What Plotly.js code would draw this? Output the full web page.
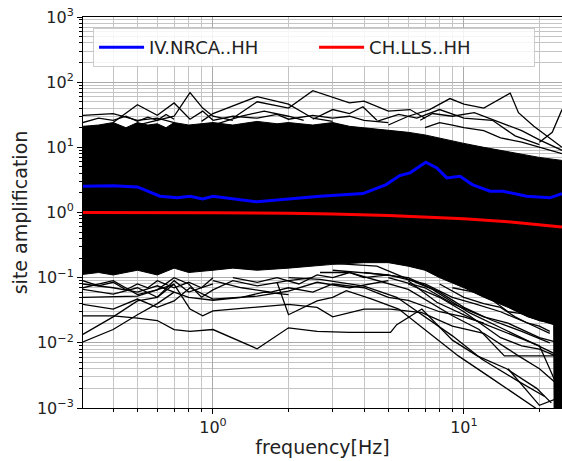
<!DOCTYPE html>
<html><head><meta charset="utf-8">
<script src="https://cdn.plot.ly/plotly-3.0.1.min.js"></script>
<style>html,body{margin:0;padding:0;background:#fff;} #chart{width:562px;height:461px;}</style>
</head><body><div id="chart"></div>
<script>
// ---- data ----
// dense mass of site-amplification curves: upper and lower envelope
const upperEnvF = [0.29, 0.303, 0.35, 0.4, 0.45, 0.5, 0.55, 0.6, 0.65, 0.7, 0.8, 0.9, 1.0, 1.2, 1.5, 1.8, 2.0, 2.5, 3.0, 3.5, 4.0, 5.0, 6.0, 7.0, 8.0, 10, 12, 15, 18, 20, 24.6, 26];
const upperEnvA = [21, 21, 22, 24, 20, 24, 22, 23, 20, 24, 22, 23, 24, 22, 25, 23, 24, 22, 24, 21, 20, 18, 17, 15.5, 14, 11.5, 10, 8.5, 7.5, 7, 6.3, 6];
const lowerEnvF = [0.29, 0.303, 0.35, 0.4, 0.5, 0.6, 0.7, 0.8, 1.0, 1.2, 1.5, 2.0, 2.5, 3.0, 4.0, 5.0, 6.0, 7.0, 8.0, 10, 12, 15, 18, 22.8, 23.0, 26];
const lowerEnvA = [0.11, 0.11, 0.12, 0.11, 0.13, 0.11, 0.14, 0.12, 0.13, 0.14, 0.13, 0.14, 0.15, 0.16, 0.17, 0.17, 0.15, 0.13, 0.1, 0.07, 0.05, 0.035, 0.025, 0.019, 0.00001, 0.00001];

// individual stray curves above the mass  [frequency, amplification]
const up1 = [[0.303,31],[0.4,33],[0.5,26],[0.6,28],[0.7,24]];
const up2 = [[0.5,22],[0.6,26],[0.7,30],[0.81,69],[0.91,40],[1.0,30],[1.2,26]];
const up3 = [[0.4,24],[0.5,45],[0.6,31],[0.7,48],[0.81,27],[0.91,36],[1.0,26]];
const up4 = [[0.9,25],[1.0,33],[1.5,60],[2.0,46],[2.5,28],[3.0,25]];
const up5 = [[1.2,28],[1.5,50],[2.0,40],[2.5,74],[3.5,48],[4.0,51],[5.0,36],[6.1,38],[7.0,28]];
const up6 = [[2.5,27],[3.0,38],[3.5,33],[3.96,42],[4.5,26]];
const up7 = [[5.0,22],[6.0,30],[7.3,38],[8.8,56],[10,46],[12,40],[15.3,68],[16.5,34],[19,21],[22,14],[24.6,10]];
const up8 = [[6.7,26],[7.5,33],[9.0,30],[11,34],[14,24],[17,18],[20,13],[24.6,9]];
const up9 = [[20,12],[22.5,17],[24.6,38]];
const up10 = [[4.5,25],[5.5,32],[6.5,28],[8.0,38],[10,28],[13,26],[16,15],[20,11]];
const up11 = [[1.0,22],[1.3,30],[1.6,36],[2.0,30],[2.3,26]];
const up12 = [[0.303,24],[0.35,28],[0.4,26],[0.45,30],[0.5,25],[0.55,29],[0.6,26],[0.65,32],[0.7,27]];
const up13 = [[1.0,26],[1.2,30],[1.5,28],[1.8,32],[2.0,27],[2.5,31],[3.0,28],[3.5,30],[4.0,26],[5.0,24]];
const up14 = [[7.0,20],[8.0,24],[9.0,22],[10,20],[12,18],[14,14],[17,12],[20,10],[24.6,8]];

// individual stray curves below the mass
const lo1 = [[0.303,0.0103],[0.4,0.016],[0.5,0.027],[0.6,0.04],[0.7,0.06]];
const lo2 = [[0.303,0.0135],[0.4,0.025],[0.5,0.044],[0.6,0.05],[0.7,0.08]];
const lo3 = [[0.303,0.026],[0.4,0.026],[0.5,0.024],[0.6,0.022],[0.7,0.016],[0.81,0.015],[1.0,0.016],[1.5,0.0081],[2.0,0.017],[2.6,0.015],[3.5,0.0145],[5.1,0.0145],[5.4,0.019],[6.8,0.033],[9.0,0.011],[11.3,0.0063],[14.8,0.004],[19.5,0.002],[22.3,0.0012]];
const lo4 = [[0.303,0.039],[0.4,0.033],[0.5,0.047],[0.6,0.035],[0.7,0.044],[0.81,0.07],[1.0,0.047],[1.5,0.052],[2.0,0.062],[2.6,0.085],[3.5,0.07],[5.0,0.09]];
const lo5 = [[0.303,0.05],[0.5,0.052],[0.7,0.079],[0.81,0.033],[0.91,0.026],[1.0,0.031],[2.0,0.039],[2.6,0.035],[3.0,0.025],[4.0,0.033],[5.1,0.033],[6.8,0.029],[9.0,0.018],[12,0.014],[16.5,0.0063],[20,0.004],[23,0.0025]];
const lo6 = [[0.303,0.066],[0.4,0.056],[0.5,0.07],[0.6,0.05],[0.7,0.09],[0.8,0.06],[1.0,0.08]];
const lo7 = [[1.8,0.085],[2.0,0.027],[2.6,0.044],[3.0,0.05],[3.4,0.063],[4.3,0.047],[5.5,0.033],[7.0,0.016],[9.5,0.0063],[13,0.0028],[18,0.0012],[21,0.0008]];
const lo8 = [[2.0,0.1],[2.67,0.094],[4.0,0.074],[5.4,0.05],[9.0,0.0128],[11.8,0.0056],[16.7,0.0025],[21,0.0015]];
const lo9 = [[2.67,0.12],[3.5,0.12],[6.0,0.066],[9.0,0.026],[11.5,0.016],[14.5,0.0063],[24.6,0.0063]];
const lo10 = [[2.67,0.17],[4.5,0.15],[7.5,0.066],[10.5,0.029],[14.5,0.016],[18.5,0.0103],[24,0.0063]];
const lo11 = [[6.0,0.09],[7.8,0.042],[11.5,0.021],[15,0.014],[20,0.009],[24.6,0.0015]];
const lo12 = [[15,0.004],[20,0.0011],[24.6,0.0015]];
const lo13 = [[5.0,0.1],[7.0,0.07],[9.0,0.04],[12,0.025],[15,0.02],[20,0.012],[24,0.01]];
const lo14 = [[4.0,0.12],[6.0,0.1],[8.0,0.06],[10,0.035],[13,0.022],[17,0.015],[22,0.01]];
const lo15 = [[3.0,0.13],[5.0,0.11],[7.0,0.08],[9.0,0.05],[11,0.04],[14,0.03],[18,0.02],[22,0.014]];
const lo16 = [[1.0,0.09],[1.3,0.07],[1.7,0.06],[2.0,0.07],[2.5,0.06],[3.0,0.08],[4.0,0.07],[5.0,0.05],[6.0,0.045],[8.0,0.03],[10,0.025],[12,0.02]];
const lo17 = [[0.303,0.08],[0.4,0.07],[0.5,0.06],[0.6,0.075],[0.7,0.06],[0.8,0.05],[1.0,0.045],[1.3,0.05],[1.6,0.06],[2.0,0.055]];
const lo18 = [[0.303,0.09],[0.35,0.075],[0.4,0.085],[0.45,0.065],[0.5,0.08],[0.55,0.07],[0.6,0.09],[0.7,0.07],[0.8,0.085],[0.9,0.07],[1.0,0.1]];
const lo19 = [[0.303,0.07],[0.4,0.09],[0.5,0.055],[0.6,0.065],[0.7,0.1],[0.8,0.08],[0.9,0.05],[1.0,0.065],[1.2,0.09],[1.5,0.075],[2.0,0.09],[2.5,0.1]];
const lo20 = [[1.2,0.1],[1.5,0.085],[1.8,0.1],[2.2,0.08],[2.6,0.11],[3.0,0.1],[3.5,0.12],[4.0,0.1],[5.0,0.11]];
const lo21 = [[8.0,0.08],[10,0.05],[12,0.04],[14,0.035],[16,0.025],[18,0.02],[20,0.018],[22,0.015]];
const lo22 = [[9.0,0.07],[11,0.06],[13,0.045],[15,0.03],[17,0.028],[20,0.022],[23,0.02]];
const lo23 = [[6.0,0.08],[8.0,0.05],[10,0.03],[12,0.018],[14,0.012],[17,0.009],[20,0.008],[24,0.006]];

// highlighted stations
const nrcaF = [0.303, 0.4, 0.5, 0.615, 0.72, 0.81, 0.91, 1.0, 1.5, 2.0, 2.67, 3.96, 4.9, 5.55, 6.1, 7.05, 7.8, 8.55, 9.65, 10.8, 12.7, 14.3, 17.8, 22, 24.6];
const nrcaA = [2.53, 2.58, 2.47, 1.78, 1.68, 1.78, 1.62, 1.78, 1.46, 1.62, 1.78, 1.95, 2.68, 3.69, 4.06, 5.9, 4.83, 3.4, 3.6, 2.68, 2.12, 2.12, 1.78, 1.68, 1.95];
const llsF = [0.303, 0.5, 1.0, 2.0, 3.0, 5.0, 7.0, 10, 15, 20, 24.6];
const llsA = [1.0, 1.0, 0.99, 0.97, 0.95, 0.9, 0.86, 0.8, 0.72, 0.65, 0.6];

// axis ticks
const xTickVals = [1, 10];
const xTickText = ['10<sup>0</sup>', '10<sup>1</sup>'];
const xMinorVals = [0.3, 0.4, 0.5, 0.6, 0.7, 0.8, 0.9, 2, 3, 4, 5, 6, 7, 8, 9, 20];
const yTickVals = [1e-3, 1e-2, 1e-1, 1, 10, 100, 1000];
const yTickText = ['10<sup>\u22123</sup>', '10<sup>\u22122</sup>', '10<sup>\u22121</sup>', '10<sup>0</sup>', '10<sup>1</sup>', '10<sup>2</sup>', '10<sup>3</sup>'];
const yMinorVals = [];
[1e-3, 1e-2, 1e-1, 1, 10, 100].forEach(function (d) { [2,3,4,5,6,7,8,9].forEach(function (m) { yMinorVals.push(d * m); }); });

// ---- build traces ----
const traces = [];
traces.push({
  x: upperEnvF.concat(lowerEnvF.slice().reverse()),
  y: upperEnvA.concat(lowerEnvA.slice().reverse()),
  mode: 'lines', fill: 'toself', fillcolor: '#000000',
  line: {color: '#000000', width: 1}, showlegend: false, hoverinfo: 'skip'
});
[up1, up2, up3, up4, up5, up6, up7, up8, up9, up10, up11, up12, up13, up14,
 lo1, lo2, lo3, lo4, lo5, lo6, lo7, lo8, lo9, lo10, lo11, lo12, lo13, lo14, lo15, lo16, lo17,
 lo18, lo19, lo20, lo21, lo22, lo23].forEach(function (ln) {
  traces.push({
    x: ln.map(function (p) { return p[0]; }),
    y: ln.map(function (p) { return p[1]; }),
    mode: 'lines', line: {color: '#000000', width: 1.3}, showlegend: false, hoverinfo: 'skip'
  });
});
traces.push({x: nrcaF, y: nrcaA, mode: 'lines', name: 'IV.NRCA..HH', line: {color: '#0000ff', width: 3}});
traces.push({x: llsF, y: llsA, mode: 'lines', name: 'CH.LLS..HH', line: {color: '#ff0000', width: 3}});

const font = 'DejaVu Sans, sans-serif';
const layout = {
  width: 562, height: 461,
  margin: {l: 83, r: 0, t: 17, b: 53},
  paper_bgcolor: '#ffffff', plot_bgcolor: '#ffffff',
  font: {family: font, color: '#222222'},
  xaxis: {
    type: 'log', range: [-0.518, 1.391],
    tickmode: 'array', tickvals: xTickVals, ticktext: xTickText,
    ticks: 'outside', ticklen: 5, tickwidth: 1, tickcolor: '#000',
    showline: true, linecolor: '#000', linewidth: 1, mirror: true,
    showgrid: true, gridcolor: '#aaaaaa', gridwidth: 1, zeroline: false,
    minor: {tickmode: 'array', tickvals: xMinorVals, ticks: 'outside', ticklen: 3, tickcolor: '#000', showgrid: true, gridcolor: '#c4c4c4', gridwidth: 1},
    tickfont: {size: 16, color: '#222', family: font},
    title: {text: 'frequency[Hz]', font: {size: 19, color: '#222', family: font}, standoff: 4}
  },
  yaxis: {
    type: 'log', range: [-3, 3],
    tickmode: 'array', tickvals: yTickVals, ticktext: yTickText,
    ticks: 'outside', ticklen: 5, tickwidth: 1, tickcolor: '#000',
    showline: true, linecolor: '#000', linewidth: 1,
    showgrid: true, gridcolor: '#aaaaaa', gridwidth: 1, zeroline: false,
    minor: {tickmode: 'array', tickvals: yMinorVals, ticks: 'outside', ticklen: 3, tickcolor: '#000', showgrid: true, gridcolor: '#c4c4c4', gridwidth: 1},
    tickfont: {size: 16, color: '#222', family: font},
    title: {text: 'site amplification', font: {size: 19, color: '#222', family: font}, standoff: 4}
  },
  legend: {
    orientation: 'h', x: 0.021, y: 0.972, xanchor: 'left', yanchor: 'top',
    bgcolor: 'rgba(255,255,255,0.85)', bordercolor: '#cccccc', borderwidth: 1,
    font: {size: 18, color: '#222', family: font},
    itemwidth: 45, entrywidth: 160, entrywidthmode: 'pixels'
  },
  showlegend: true
};
Plotly.newPlot('chart', traces, layout, {staticPlot: true, displayModeBar: false});
</script></body></html>
